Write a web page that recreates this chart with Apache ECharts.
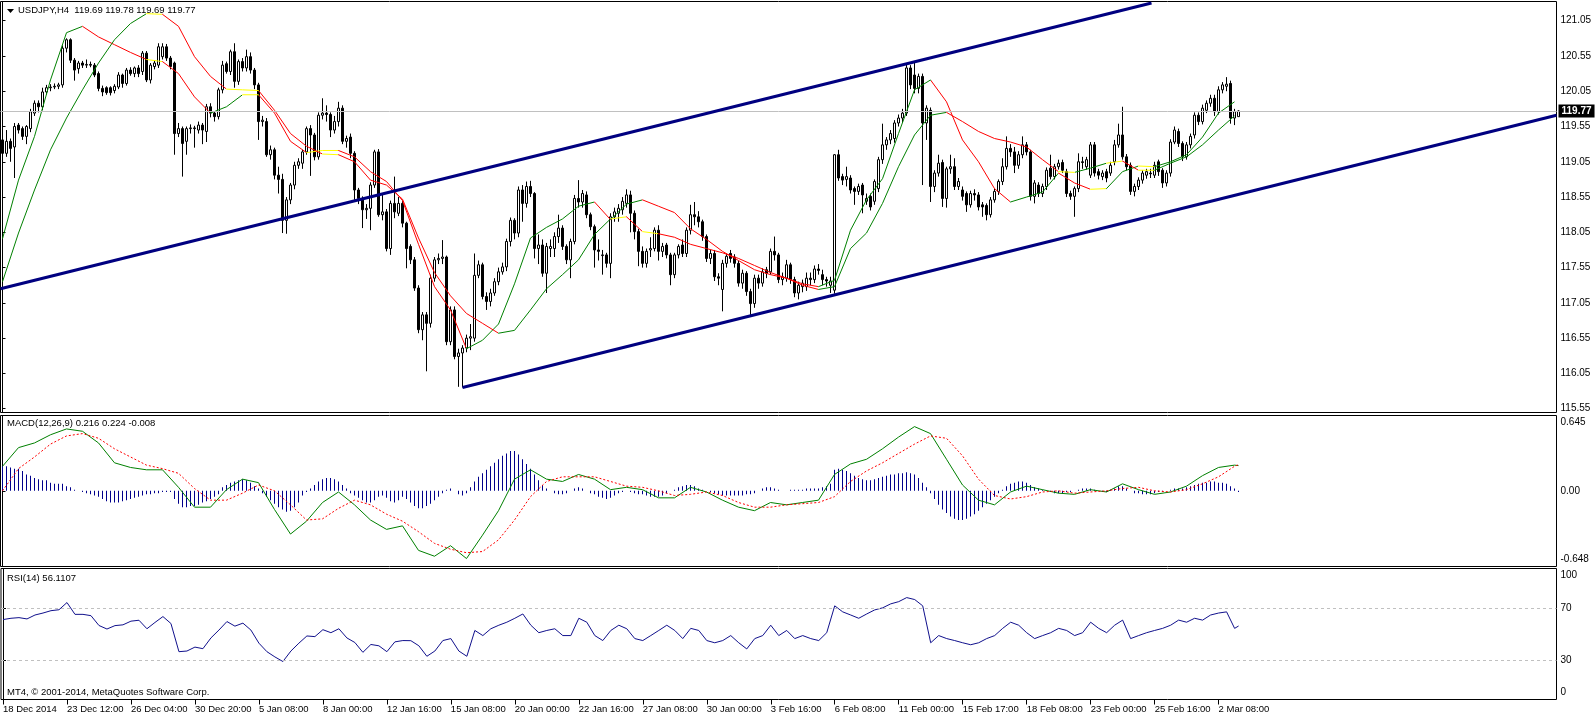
<!DOCTYPE html>
<html><head><meta charset="utf-8"><title>USDJPY,H4</title>
<script src="https://cdn.jsdelivr.net/npm/echarts@6.0.0/dist/echarts.min.js"></script>
<style>html,body{margin:0;padding:0;background:#fff;}#chart{width:1596px;height:718px;}</style>
</head><body><div id="chart"></div>
<script>
// ---------------- DATA ----------------
const symbolName = 'USDJPY';
const timeframe = 'H4';
const timeLabels = ['18 Dec 2014','23 Dec 12:00','26 Dec 04:00','30 Dec 20:00','5 Jan 08:00','8 Jan 00:00','12 Jan 16:00','15 Jan 08:00','20 Jan 00:00','22 Jan 16:00','27 Jan 08:00','30 Jan 00:00','3 Feb 16:00','6 Feb 08:00','11 Feb 00:00','15 Feb 17:00','18 Feb 08:00','23 Feb 00:00','25 Feb 16:00','2 Mar 08:00'];
const labelEvery = 16; // bars between time labels
const priceTicks = [115.55,116.05,116.55,117.05,117.55,118.05,118.55,119.05,119.55,120.05,120.55,121.05];
const macdTicks = [0.645, 0, -0.648];
const rsiTicks = [100, 70, 30, 0];
const rsiLevels = [70, 30];
const macdHeader = [0.216, 0.224, -0.008];
const rsiLast = 56.1107;

const opens = [119.36,119.17,119.34,119.26,119.57,119.52,119.41,119.52,119.74,119.88,
119.83,120.04,120.10,120.11,120.12,120.14,120.66,120.78,120.49,120.37,
120.45,120.42,120.43,120.42,120.30,120.09,120.10,120.10,120.06,120.11,
120.28,120.16,120.35,120.30,120.38,120.33,120.59,120.21,120.40,120.42,
120.54,120.68,120.52,120.45,119.45,119.52,119.34,119.52,119.53,119.50,
119.57,119.48,119.83,119.74,119.69,120.07,120.44,120.33,120.61,120.19,
120.47,120.38,120.54,120.35,120.14,119.62,119.62,119.15,119.22,118.86,
118.80,118.22,118.51,118.72,119.00,119.03,119.19,119.52,119.43,119.12,
119.71,119.74,119.72,119.50,119.62,119.81,119.34,119.40,119.17,118.65,
118.53,118.37,118.39,118.72,119.19,118.30,118.34,117.82,118.46,118.32,
118.46,118.18,117.85,117.66,117.26,116.67,116.88,116.76,117.40,117.66,
117.68,117.70,116.50,116.95,116.29,116.34,116.41,116.55,116.55,117.44,
117.59,117.14,117.07,117.19,117.35,117.49,117.56,117.92,118.22,118.04,
118.65,118.46,118.70,118.60,117.82,117.87,117.47,117.82,117.82,117.99,
118.11,117.85,117.66,117.92,118.53,118.48,118.58,118.30,118.13,117.80,
117.72,117.73,117.61,118.27,118.32,118.37,118.46,118.58,118.32,118.06,
117.78,117.61,117.80,117.82,118.08,117.78,117.87,117.73,117.45,117.73,
117.87,117.75,118.08,118.30,118.27,118.20,117.99,117.68,117.75,117.42,
117.24,117.61,117.75,117.70,117.61,117.33,117.47,117.21,117.04,117.40,
117.33,117.52,117.49,117.78,117.73,117.38,117.40,117.59,117.38,117.19,
117.28,117.28,117.40,117.38,117.53,117.45,117.38,117.30,117.23,119.15,
118.84,118.80,118.82,118.67,118.63,118.72,118.49,118.56,118.49,118.67,
119.08,119.29,119.36,119.38,119.60,119.67,119.74,120.38,120.28,120.09,
120.26,119.60,119.78,118.70,118.89,119.04,118.53,118.95,118.98,118.70,
118.65,118.60,118.44,118.60,118.58,118.44,118.43,118.30,118.51,118.63,
118.77,118.98,119.24,119.19,119.00,119.15,119.29,119.19,118.56,118.72,
118.60,118.70,118.96,118.84,118.98,119.04,118.91,118.60,118.56,118.67,
119.05,118.98,118.86,119.29,118.91,118.84,118.91,118.89,119.05,119.29,
119.43,119.12,119.00,118.63,118.70,118.79,118.86,118.89,118.86,119.05,
118.93,118.75,118.89,119.33,119.48,119.31,119.12,119.29,119.43,119.71,
119.62,119.78,119.88,119.95,119.76,120.07,120.12,120.16,119.67,119.69];

const closes = [119.17,119.34,119.24,119.55,119.50,119.41,119.55,119.76,119.88,119.83,
120.04,120.10,120.11,120.12,120.14,120.66,120.78,120.49,120.35,120.45,
120.42,120.43,120.42,120.28,120.09,120.04,120.03,120.03,120.12,120.28,
120.16,120.35,120.30,120.38,120.30,120.59,120.21,120.42,120.45,120.68,
120.68,120.52,120.40,119.45,119.52,119.31,119.52,119.53,119.52,119.57,
119.50,119.83,119.74,119.69,120.07,120.42,120.33,120.61,120.19,120.47,
120.38,120.54,120.35,120.14,119.62,119.64,119.15,119.22,118.86,118.80,
118.22,118.51,118.72,119.00,119.05,119.19,119.52,119.43,119.12,119.71,
119.74,119.72,119.50,119.62,119.81,119.34,119.38,119.17,118.65,118.53,
118.37,118.39,118.72,119.19,118.30,118.34,117.82,118.46,118.34,118.46,
118.18,117.82,117.66,117.26,116.67,116.88,116.76,117.40,117.66,117.68,
117.70,116.50,116.95,116.29,116.34,116.41,116.55,116.57,117.44,117.59,
117.14,117.07,117.19,117.35,117.49,117.56,117.92,118.22,118.04,118.65,
118.46,118.70,118.60,117.82,117.87,117.47,117.85,117.85,117.99,118.11,
117.85,117.66,117.92,118.53,118.48,118.60,118.30,118.13,117.80,117.78,
117.73,117.61,118.27,118.34,118.39,118.49,118.58,118.32,118.06,117.78,
117.61,117.78,117.82,118.08,117.78,117.85,117.73,117.45,117.73,117.85,
117.75,118.08,118.30,118.27,118.20,117.99,117.68,117.75,117.42,117.40,
117.61,117.71,117.68,117.61,117.33,117.47,117.21,117.04,117.40,117.33,
117.49,117.47,117.78,117.73,117.38,117.42,117.59,117.38,117.19,117.30,
117.33,117.40,117.38,117.53,117.51,117.38,117.36,117.36,119.15,118.82,
118.79,118.84,118.65,118.63,118.70,118.58,118.53,118.41,118.77,119.08,
119.29,119.36,119.45,119.60,119.67,119.74,120.38,120.14,120.09,120.26,
119.60,119.81,118.70,118.89,119.03,118.53,118.95,118.98,118.70,118.77,
118.56,118.44,118.60,118.58,118.41,118.41,118.30,118.51,118.63,118.77,
118.98,119.24,119.19,119.00,119.15,119.29,119.19,118.56,118.75,118.60,
118.70,118.93,118.84,118.98,119.03,118.93,118.60,118.56,118.67,119.05,
119.04,119.08,119.29,118.89,118.86,118.89,118.82,119.00,119.29,119.43,
119.12,118.98,118.63,118.70,118.79,118.89,118.91,118.88,119.00,118.91,
118.75,118.89,119.33,119.50,119.31,119.12,119.29,119.41,119.71,119.62,
119.81,119.88,119.95,119.76,120.07,120.14,120.15,119.67,119.76,119.77];

const lows = [118.79,119.12,119.05,118.82,119.45,119.36,119.30,119.47,119.70,119.75,
119.78,120.00,120.05,120.08,120.08,120.10,120.60,120.45,120.20,120.30,
120.38,120.38,120.39,120.25,120.05,119.98,120.00,119.99,120.02,120.08,
120.10,120.13,120.27,120.25,120.25,120.28,120.18,120.16,120.36,120.38,
120.50,120.48,120.36,119.15,119.40,118.84,119.15,119.45,119.25,119.45,
119.30,119.33,119.68,119.62,119.65,120.02,120.30,120.28,120.10,120.14,
120.33,120.33,120.30,120.08,119.36,119.55,119.12,119.08,118.80,118.60,
118.04,118.03,118.45,118.66,118.95,118.95,119.15,118.85,119.07,119.08,
119.65,119.62,119.40,119.45,119.55,119.30,119.25,119.10,118.51,118.45,
118.11,118.24,118.08,118.68,118.27,118.22,117.78,117.73,118.25,118.28,
118.12,117.54,117.60,117.22,116.62,116.52,116.08,116.70,117.35,117.60,
117.60,116.45,116.45,116.25,115.86,115.85,116.35,116.38,116.50,117.40,
117.10,116.95,117.00,117.15,117.30,117.45,117.50,117.85,117.95,117.98,
118.20,118.40,118.55,117.68,117.60,117.42,117.19,117.70,117.70,117.90,
117.80,117.60,117.40,117.88,118.40,118.40,118.25,118.08,117.55,117.65,
117.45,117.55,117.40,118.20,118.20,118.30,118.40,118.05,117.95,117.57,
117.55,117.55,117.70,117.78,117.65,117.70,117.68,117.30,117.40,117.68,
117.70,117.70,118.02,118.15,118.12,117.93,117.63,117.60,117.36,117.30,
116.93,117.55,117.62,117.55,117.28,117.25,117.15,116.88,116.98,117.25,
117.28,117.40,117.45,117.65,117.33,117.30,117.35,117.32,117.13,117.10,
117.20,117.22,117.30,117.33,117.45,117.30,117.28,117.19,117.18,118.78,
118.72,118.70,118.60,118.44,118.58,118.32,118.44,118.36,118.44,118.62,
119.02,119.22,119.30,119.32,119.55,119.60,119.70,120.08,120.02,120.02,
118.72,119.36,118.48,118.62,118.84,118.41,118.40,118.88,118.65,118.65,
118.50,118.34,118.40,118.50,118.36,118.27,118.22,118.26,118.47,118.58,
118.72,118.94,119.12,118.89,118.95,119.10,119.14,118.50,118.46,118.55,
118.55,118.65,118.80,118.80,118.94,118.89,118.55,118.51,118.27,118.62,
118.95,118.94,118.82,118.84,118.80,118.79,118.76,118.85,119.00,119.25,
119.08,118.93,118.58,118.56,118.65,118.74,118.81,118.82,118.82,118.85,
118.68,118.70,118.84,119.30,119.26,119.06,119.08,119.24,119.38,119.57,
119.58,119.74,119.83,119.70,119.72,120.02,120.05,119.59,119.57,119.69];

const highs = [119.40,119.50,119.38,119.60,119.60,119.55,119.57,119.80,119.92,119.92,
120.10,120.14,120.15,120.16,120.17,120.70,120.80,120.80,120.52,120.48,
120.48,120.50,120.47,120.45,120.33,120.13,120.12,120.12,120.15,120.32,
120.30,120.38,120.39,120.40,120.42,120.62,120.62,120.45,120.48,120.73,
120.73,120.72,120.55,120.47,119.60,119.55,119.55,119.58,119.56,119.62,
119.60,119.87,119.88,119.76,120.10,120.48,120.47,120.64,120.73,120.50,
120.52,120.64,120.60,120.38,120.17,119.70,119.67,119.28,119.25,118.98,
118.88,118.55,118.75,119.05,119.10,119.22,119.55,119.57,119.46,119.75,
119.95,119.85,119.75,119.70,119.90,119.85,119.42,119.45,119.20,118.68,
118.56,118.45,118.76,119.22,119.23,118.60,118.38,118.50,118.84,118.55,
118.50,118.20,117.88,117.70,117.30,116.92,116.92,117.45,117.70,117.75,
117.94,117.72,117.00,117.00,116.40,116.45,116.60,116.75,117.75,117.65,
117.62,117.20,117.25,117.40,117.55,117.62,117.96,118.26,118.25,118.70,
118.72,118.77,118.78,118.62,118.02,117.95,117.90,117.95,118.05,118.30,
118.15,117.88,117.96,118.58,118.79,118.65,118.63,118.33,118.16,117.95,
117.80,117.76,118.32,118.40,118.45,118.55,118.66,118.64,118.36,118.10,
117.85,117.82,117.98,118.12,118.15,117.90,117.90,117.76,117.76,117.88,
117.95,118.12,118.44,118.48,118.35,118.23,118.02,117.80,117.80,117.47,
117.66,117.75,117.80,117.74,117.65,117.52,117.50,117.25,117.45,117.45,
117.54,117.56,117.82,117.99,117.76,117.48,117.66,117.62,117.42,117.35,
117.38,117.48,117.48,117.58,117.60,117.52,117.42,117.42,119.16,119.22,
118.88,118.98,118.86,118.70,118.74,118.75,118.60,118.60,118.80,119.12,
119.59,119.40,119.50,119.64,119.72,119.80,120.45,120.42,120.45,120.30,
120.30,119.85,119.82,118.93,119.15,119.08,118.98,119.15,119.10,118.82,
118.70,118.63,118.64,118.66,118.62,118.48,118.46,118.55,118.67,118.80,
119.10,119.41,119.30,119.26,119.20,119.41,119.33,119.22,118.79,118.76,
118.74,118.97,119.15,119.02,119.08,119.08,118.95,118.64,118.70,119.17,
119.12,119.12,119.33,119.33,118.95,118.93,118.95,119.05,119.36,119.59,
119.83,119.16,119.04,118.74,118.83,118.93,118.95,118.95,119.05,119.08,
118.96,118.93,119.37,119.55,119.52,119.34,119.33,119.45,119.75,119.75,
119.86,119.92,120.00,120.00,120.12,120.18,120.25,120.20,119.80,119.78];

// coloured moving averages, one reading every 4 bars
const maStep = 4;
const fastMA = [117.96,118.79,119.41,120.21,120.88,120.97,120.82,120.71,120.60,120.50,
120.47,120.30,119.97,119.74,119.83,120.00,120.00,119.74,119.34,119.18,
119.21,119.21,119.12,118.91,118.77,118.50,117.88,117.28,116.95,116.40,
116.52,116.75,117.32,117.97,118.12,118.24,118.42,118.48,118.23,118.45,
118.51,118.42,118.33,118.10,117.95,117.78,117.65,117.52,117.45,117.40,
117.32,117.28,117.37,118.08,118.51,118.81,119.45,120.07,120.21,119.90,
119.36,119.05,118.67,118.48,118.55,118.62,118.89,118.75,118.66,118.67,
118.91,118.99,118.98,119.05,119.15,119.40,119.74,119.90];
const slowMA = [117.35,118.04,118.65,119.22,119.67,120.07,120.45,120.78,121.01,121.15,
121.14,120.97,120.54,120.26,120.08,120.07,120.06,119.78,119.45,119.27,
119.16,119.15,119.05,118.79,118.72,118.52,117.97,117.48,117.15,116.90,
116.76,116.62,116.66,116.95,117.25,117.45,117.66,118.02,118.24,118.27,
118.06,118.03,117.98,117.88,117.82,117.76,117.68,117.58,117.48,117.40,
117.30,117.24,117.28,117.82,118.04,118.46,118.98,119.43,119.71,119.75,
119.62,119.48,119.38,119.33,119.26,119.08,118.91,118.90,118.96,119.03,
119.06,118.93,118.93,119.03,119.12,119.29,119.50,119.70];

// MACD lines (every 4 bars) and histogram (every bar)
const macdStep = 4;
const macdMain = [0.21,0.37,0.41,0.48,0.53,0.51,0.41,0.24,0.20,0.18,
0.18,0.03,-0.14,-0.14,0.01,0.10,0.07,-0.16,-0.37,-0.26,
-0.10,-0.01,-0.12,-0.25,-0.33,-0.30,-0.51,-0.56,-0.47,-0.58,
-0.38,-0.17,0.10,0.18,0.10,0.08,0.14,0.10,0.01,0.03,
0.01,-0.06,-0.06,0.03,-0.01,-0.08,-0.14,-0.17,-0.10,-0.12,
-0.10,-0.08,0.14,0.23,0.27,0.36,0.46,0.55,0.49,0.27,
0.05,-0.08,-0.12,-0.01,0.04,0.01,-0.02,-0.03,0.01,-0.01,
0.06,0.01,-0.03,-0.01,0.04,0.13,0.20,0.22];
const macdSignal = [0.00,0.19,0.29,0.40,0.47,0.49,0.45,0.36,0.29,0.22,
0.19,0.15,0.02,-0.08,-0.08,-0.02,0.05,0.00,-0.12,-0.25,
-0.24,-0.15,-0.08,-0.12,-0.20,-0.26,-0.35,-0.45,-0.50,-0.53,
-0.52,-0.42,-0.25,-0.05,0.08,0.12,0.12,0.12,0.08,0.04,
0.03,0.00,-0.04,-0.03,-0.01,-0.04,-0.10,-0.14,-0.14,-0.12,
-0.11,-0.10,-0.05,0.08,0.17,0.24,0.32,0.40,0.47,0.45,
0.30,0.10,-0.04,-0.07,-0.05,-0.01,0.00,-0.02,-0.01,0.00,
0.02,0.03,0.00,-0.01,0.01,0.06,0.12,0.21];
const macdHist = [0.21,0.21,0.20,0.19,0.19,0.17,0.14,0.13,0.11,0.10,0.09,0.09,0.07,0.06,0.06,0.06,0.04,0.03,0.01,
0.00,-0.01,-0.02,-0.03,-0.04,-0.05,-0.07,-0.09,-0.10,-0.10,
-0.10,-0.09,-0.08,-0.07,-0.06,-0.05,-0.04,-0.03,-0.03,-0.02,
-0.02,-0.01,-0.01,-0.01,-0.07,-0.11,-0.14,-0.14,-0.13,-0.13,
-0.12,-0.10,-0.09,-0.07,-0.05,-0.03,0.03,0.05,0.07,0.08,
0.09,0.10,0.09,0.07,0.04,0.02,-0.02,-0.05,-0.08,-0.11,
-0.14,-0.16,-0.18,-0.17,-0.14,-0.10,-0.04,-0.01,0.02,0.05,
0.08,0.10,0.11,0.11,0.10,0.08,0.05,0.02,-0.02,-0.04,
-0.06,-0.08,-0.10,-0.10,-0.08,-0.05,-0.04,-0.06,-0.09,-0.10,
-0.08,-0.05,
-0.07,-0.10,-0.13,-0.15,-0.15,-0.13,-0.11,-0.08,-0.05,-0.02,
0.01,0.02,0.00,-0.03,-0.04,-0.02,0.03,0.08,0.12,0.15,
0.18,0.21,0.24,0.27,0.30,0.32,0.34,0.34,0.31,0.27,
0.23,0.19,0.14,0.09,0.05,0.02,0.00,-0.02,-0.03,-0.03,
-0.02,0.00,0.02,0.03,0.02,0.00,-0.02,-0.03,-0.05,-0.06,
-0.07,-0.06,-0.04,-0.02,-0.01,0.00,-0.01,-0.02,-0.03,-0.03,
-0.04,-0.05,-0.05,-0.05,-0.04,-0.02,0.00,0.01,0.03,0.04,
0.05,0.05,0.04,0.02,0.01,0.00,-0.01,-0.02,-0.03,-0.04,
-0.04,-0.04,-0.04,-0.04,-0.04,-0.03,-0.03,-0.02,0.00,0.02,
0.03,0.03,0.02,0.01,0.00,0.00,0.01,0.01,0.01,0.01,
0.02,0.02,0.02,0.02,0.03,0.04,0.06,0.18,0.19,0.18,
0.17,0.15,0.13,0.11,0.10,0.09,0.09,0.10,0.11,0.12,
0.13,0.14,0.14,0.15,0.15,0.16,0.15,0.14,0.11,0.07,
0.03,-0.02,-0.07,-0.12,-0.16,-0.19,-0.22,-0.24,-0.25,-0.25,
-0.24,-0.22,-0.20,-0.17,-0.14,-0.11,-0.08,-0.05,-0.02,0.01,
0.04,0.06,0.07,0.08,0.08,0.07,0.05,0.03,0.02,0.01,
0.00,-0.01,-0.02,-0.02,-0.02,-0.01,-0.01,0.00,0.01,0.02,
0.02,0.02,0.01,0.00,-0.01,-0.01,0.01,0.02,0.04,0.04,
0.02,0.00,-0.02,-0.02,-0.03,-0.03,-0.03,-0.02,-0.01,-0.01,
0.00,0.01,0.02,0.02,0.02,0.03,0.04,0.05,0.06,0.07,
0.07,0.08,0.08,0.07,0.07,0.06,0.04,0.02,-0.01];

// RSI(14), one reading every 2 bars
const rsiStep = 2;
const rsiVals = [61,62,62.5,61.5,64.5,66,67.8,68.5,74,65,
65,64,56.5,53.8,56.4,57,59.8,60.5,54,58.8,
63.3,58,36.5,37,40,38.8,47,53,59.5,56,
58.3,53,43,36.5,32.5,29,37,43,48.5,48,
53.3,51,54,47,43.5,36,42,41,36.5,44,
45,44.9,41,33,37,45,46.5,37,33,52.7,
48.8,54,56.7,59,62,65.3,56.7,51,52.7,54,
48.8,48.8,62,59,48.8,45,52.7,56.7,54,46.5,
45,48.8,52.7,56.7,52.7,46.5,54.3,52.7,45,43.3,
45,48.8,43.3,38.6,46.5,48.8,56.7,48.8,52.7,46.5,
48.8,46.5,45,51,71.5,66.9,64.5,62,65.3,68.4,
70,73,74.7,77.8,76.3,71.5,43.3,48.8,46.5,45,
43.3,41.8,43.3,46.5,48.8,54.3,59,56.7,51,46.5,
48.8,51,54.3,52.7,48.8,51,59,54.3,51,56.7,
60.6,46.5,48.8,51,52.7,54.3,56.7,60.6,59,62,
60.6,64.5,66,66.9,54.3];

// channel trend lines: [bar index, price]
const upperChannel = [[-0.5, 117.25], [287.25, 121.30]];
const lowerChannel = [[115, 115.85], [388.5, 119.71]];

// ---------------- CHART ----------------
const FONT = '"Liberation Sans", Arial, sans-serif';
const slots = 389;               // bar slots across the plot (4 px each)
const nBars = closes.length;
const last = nBars - 1;
const cats = Array.from({length: slots}, (_, i) => String(i));
const candleData = opens.map((o, i) => [o, closes[i], lows[i], highs[i]]);
const pts = (arr, step) => arr.map((v, k) => [k * step, v]);

function slopePieces(vals, step) {
  const out = [];
  for (let k = 0; k < vals.length - 1; k++) {
    const d = vals[k + 1] - vals[k];
    const c = Math.abs(d) < 0.035 ? '#ffff00' : (d > 0 ? '#008000' : '#ff0000');
    const a = k * step, b = (k + 1) * step;
    const lp = out[out.length - 1];
    if (lp && lp.color === c) lp.lt = b; else out.push({gte: a, lt: b, color: c});
  }
  const lp = out[out.length - 1]; lp.lte = lp.lt; delete lp.lt;
  return out;
}

const gridBase = {left: 0.5, width: 1556, show: true, borderColor: '#000', borderWidth: 1, backgroundColor: 'transparent', containLabel: false};
const catX = (gi, extra) => Object.assign({type: 'category', gridIndex: gi, data: cats, boundaryGap: true, show: false}, extra || {});
const valX = gi => ({type: 'value', gridIndex: gi, min: -0.5, max: slots - 0.5, show: false});

const edgeRich = {
  t: {padding: [14, 0, 0, 0], fontSize: 10, fontFamily: FONT, color: '#000'},
  b: {padding: [0, 0, 14, 0], fontSize: 10, fontFamily: FONT, color: '#000'}
};
function yAx(gi, min, max, ticks, tickMarks, fmt, edge) {
  return {
    type: 'value', gridIndex: gi, position: 'right', min, max,
    splitLine: {show: false},
    axisLine: {show: true, lineStyle: {color: '#000', width: 1}},
    axisTick: {show: true, length: 3, customValues: tickMarks, lineStyle: {color: '#000'}},
    axisLabel: {
      show: true, customValues: ticks, margin: 4, color: '#000', fontFamily: FONT, fontSize: 10,
      rich: edgeRich,
      formatter: v => {
        const s = fmt(v);
        if (edge && Math.abs(v - max) < 1e-9) return '{t|' + s + '}';
        if (edge && Math.abs(v - min) < 1e-9) return '{b|' + s + '}';
        return s;
      }
    }
  };
}

const showLabelAt = idx => idx % labelEvery === 0 && idx / labelEvery < timeLabels.length;

const option = {
  animation: false,
  backgroundColor: '#ffffff',
  grid: [
    Object.assign({top: 1.5, height: 411}, gridBase),
    Object.assign({top: 415.5, height: 151}, gridBase),
    Object.assign({top: 568.5, height: 131}, gridBase)
  ],
  xAxis: [
    catX(0), valX(0),
    catX(1), valX(1),
    catX(2, {
      show: true,
      axisLine: {show: false},
      axisTick: {show: true, alignWithLabel: true, length: 5, interval: showLabelAt, lineStyle: {color: '#000'}},
      axisLabel: {show: true, interval: showLabelAt, align: 'left', margin: 5, color: '#000', fontFamily: FONT, fontSize: 9.5,
        formatter: (v, idx) => timeLabels[idx / labelEvery] || ''},
      splitLine: {show: false}
    }),
    valX(2)
  ],
  yAxis: [
    yAx(0, 115.496, 121.322, priceTicks, priceTicks, v => v.toFixed(2), false),
    yAx(1, -0.648, 0.645, macdTicks, [0], v => (v === 0 ? '0.00' : v.toFixed(3)), true),
    yAx(2, 0, 100, rsiTicks, [70, 30], v => String(v), true)
  ],
  visualMap: [
    {type: 'piecewise', show: false, dimension: 0, seriesIndex: 3, pieces: slopePieces(fastMA, maStep), outOfRange: {color: '#ff0000'}},
    {type: 'piecewise', show: false, dimension: 0, seriesIndex: 4, pieces: slopePieces(slowMA, maStep), outOfRange: {color: '#ff0000'}}
  ],
  series: [
    {
      type: 'candlestick', xAxisIndex: 0, yAxisIndex: 0, data: candleData, barWidth: 2, z: 2, silent: true,
      itemStyle: {color: '#ffffff', color0: '#000000', borderColor: '#000000', borderColor0: '#000000', borderWidth: 1},
      markLine: {
        silent: true, symbol: ['none', 'none'], animation: false,
        lineStyle: {color: '#c0c0c0', type: 'solid', width: 1},
        label: {show: true, position: 'end', distance: 2, formatter: closes[last].toFixed(2), color: '#ffffff', backgroundColor: '#000000',
          padding: [2, 3, 1, 3], fontFamily: FONT, fontSize: 10, fontWeight: 'bold'},
        data: [{yAxis: closes[last]}]
      }
    },
    {type: 'line', xAxisIndex: 1, yAxisIndex: 0, data: upperChannel, symbol: 'none', z: 5, silent: true, lineStyle: {color: '#000080', width: 3}},
    {type: 'line', xAxisIndex: 1, yAxisIndex: 0, data: lowerChannel, symbol: 'none', z: 5, silent: true, lineStyle: {color: '#000080', width: 3}},
    {type: 'line', xAxisIndex: 1, yAxisIndex: 0, data: pts(fastMA, maStep), symbol: 'none', z: 4, silent: true, lineStyle: {width: 1}},
    {type: 'line', xAxisIndex: 1, yAxisIndex: 0, data: pts(slowMA, maStep), symbol: 'none', z: 4, silent: true, lineStyle: {width: 1}},
    {type: 'bar', xAxisIndex: 2, yAxisIndex: 1, data: macdHist, barWidth: 1, silent: true, itemStyle: {color: '#00008b'}},
    {type: 'line', xAxisIndex: 3, yAxisIndex: 1, data: pts(macdMain, macdStep).concat([[last, macdHeader[0]]]), symbol: 'none', silent: true, z: 4,
      lineStyle: {color: '#008000', width: 1}},
    {type: 'line', xAxisIndex: 3, yAxisIndex: 1, data: pts(macdSignal, macdStep).concat([[last, macdHeader[1]]]), symbol: 'none', silent: true, z: 4,
      lineStyle: {color: '#ff0000', width: 1, type: [2, 2]}},
    {type: 'line', xAxisIndex: 5, yAxisIndex: 2, data: pts(rsiVals, rsiStep).concat([[last, rsiLast]]), symbol: 'none', silent: true, z: 4,
      lineStyle: {color: '#10108c', width: 1},
      markLine: {silent: true, symbol: ['none', 'none'], animation: false, label: {show: false},
        lineStyle: {color: '#c0c0c0', type: [3, 3], width: 1},
        data: rsiLevels.map(v => ({yAxis: v}))}}
  ],
  graphic: [
    {type: 'polygon', shape: {points: [[7, 9], [14, 9], [10.5, 13]]}, style: {fill: '#000'}, silent: true},
    {type: 'text', left: 18, top: 5, silent: true, style: {
      text: symbolName + ',' + timeframe + '  ' + opens[last].toFixed(2) + ' ' + highs[last].toFixed(2) + ' ' + lows[last].toFixed(2) + ' ' + closes[last].toFixed(2),
      fill: '#000', font: '9.5px ' + FONT}},
    {type: 'text', left: 7, top: 418, silent: true, style: {
      text: 'MACD(12,26,9) ' + macdHeader[0].toFixed(3) + ' ' + macdHeader[1].toFixed(3) + ' ' + macdHeader[2].toFixed(3),
      fill: '#000', font: '9.5px ' + FONT}},
    {type: 'text', left: 7, top: 573, silent: true, style: {text: 'RSI(14) ' + rsiLast.toFixed(4), fill: '#000', font: '9.5px ' + FONT}},
    {type: 'text', left: 7, top: 687, silent: true, style: {text: 'MT4, \u00a9 2001-2014, MetaQuotes Software Corp.', fill: '#000', font: '9.5px ' + FONT}}
  ]
};

const chart = echarts.init(document.getElementById('chart'), null, {renderer: 'canvas', width: 1596, height: 718});
chart.setOption(option);
</script>
</body></html>
